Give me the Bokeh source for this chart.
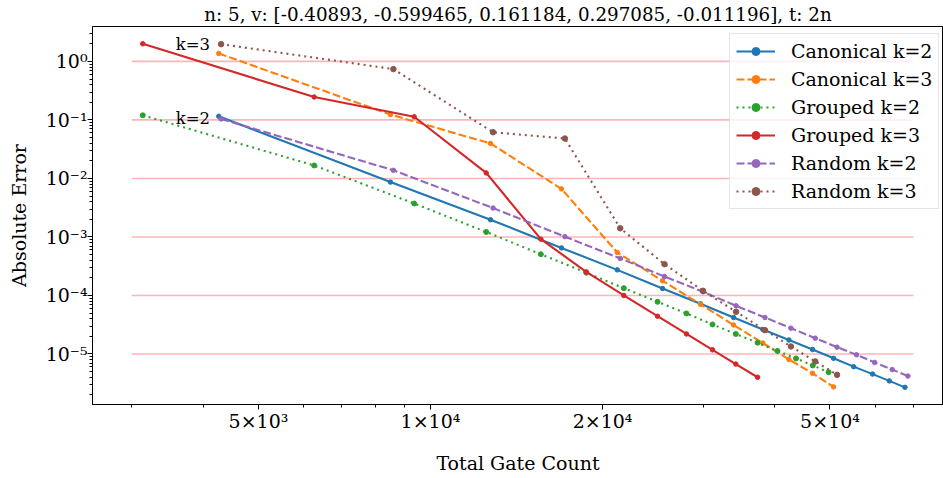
from bokeh.plotting import figure
from bokeh.models import Range1d, FixedTicker, Legend, LegendItem
from bokeh.embed import file_html
from bokeh.resources import INLINE

TITLE = "n: 5, v: [-0.40893, -0.599465, 0.161184, 0.297085, -0.011196], t: 2n"

canonical_x = [4261, 8510, 12735, 16950, 21220, 25470, 29680, 33910, 38150, 42380,
               46610, 50730, 55000, 59370, 63500, 67640]
grouped_x = [3137, 6258, 9364, 12516, 15600, 18730, 21790, 24960, 28050, 31150,
             34220, 37350, 40470, 43610, 46650, 49720]
random_x = [4301, 8612, 12865, 17185, 21475, 25670, 29975, 34250, 38485, 42725,
            47125, 51450, 55650, 59850, 64250, 68450]

canonical_k2 = [0.1155, 8.66e-3, 1.97e-3, 6.50e-4, 2.74e-4, 1.315e-4, 7.21e-5, 4.21e-5,
                2.62e-5, 1.734e-5, 1.194e-5, 8.43e-6, 6.08e-6, 4.53e-6, 3.47e-6, 2.69e-6]
canonical_k3 = [1.368, 0.1235, 0.0396, 6.63e-3, 5.45e-4, 1.78e-4, 7.07e-5, 3.13e-5,
                1.537e-5, 8.07e-6, 4.68e-6, 2.74e-6]
grouped_k2 = [0.120, 0.01668, 3.73e-3, 1.217e-3, 5.07e-4, 2.45e-4, 1.335e-4, 7.80e-5,
              4.93e-5, 3.20e-5, 2.20e-5, 1.56e-5, 1.127e-5, 8.40e-6, 6.38e-6, 4.87e-6]
grouped_k3 = [2.003, 0.2463, 0.1133, 0.01243, 9.18e-4, 2.53e-4, 1.0e-4, 4.42e-5,
              2.20e-5, 1.177e-5, 6.71e-6, 4.00e-6]
random_k2 = [0.1039, 0.01377, 3.12e-3, 1.012e-3, 4.30e-4, 2.11e-4, 1.155e-4, 6.67e-5,
             4.20e-5, 2.76e-5, 1.864e-5, 1.309e-5, 9.68e-6, 7.18e-6, 5.41e-6, 4.19e-6]
random_k3 = [1.972, 0.7394, 0.0616, 0.0481, 1.407e-3, 3.43e-4, 1.202e-4, 5.27e-5,
             2.55e-5, 1.345e-5, 7.46e-6, 4.40e-6]

series_names = ["Canonical k=2", "Canonical k=3", "Grouped k=2",
                "Grouped k=3", "Random k=2", "Random k=3"]
series_x = [canonical_x, canonical_x, grouped_x, grouped_x, random_x, random_x]
series_y = [canonical_k2, canonical_k3, grouped_k2, grouped_k3, random_k2, random_k3]
series_colors = ["#1f77b4", "#ff7f0e", "#2ca02c", "#d62728", "#9467bd", "#8c564b"]
series_dash = ["solid", "8 3", "2 4", "solid", "8 3", "2 4"]
series_marker_size = [4.5, 4.5, 5, 4.5, 4.5, 5.5]

hline_values = [1, 0.1, 0.01, 1e-3, 1e-4, 1e-5]
hline_x_start = 3000
hline_x_end = 70000

annot_texts = ["k=3", "k=2"]
annot_x = [random_x[0], random_x[0]]
annot_y = [random_k3[0], random_k2[0]]

x_major = [5000, 10000, 20000, 50000]
x_major_labels = ["5×10³", "1×10⁴", "2×10⁴", "5×10⁴"]
x_minor = [3000, 4000, 6000, 7000, 8000, 9000, 30000, 40000, 60000, 70000]
y_major = [1e0, 1e-1, 1e-2, 1e-3, 1e-4, 1e-5]
y_major_labels = ["10⁰", "10⁻¹", "10⁻²", "10⁻³", "10⁻⁴", "10⁻⁵"]
y_minor = [m * 10.0 ** e for e in range(-6, 1) for m in range(2, 10)]

FONT = "DejaVu Serif"

p = figure(width=943, height=476, x_axis_type="log", y_axis_type="log",
           x_range=Range1d(2562, 79000), y_range=Range1d(1.37e-6, 3.95),
           output_backend="svg", toolbar_location=None,
           min_border_left=92, min_border_right=0, min_border_top=25,
           min_border_bottom=72, title=TITLE)
p.title.align = "center"
p.title.text_font = FONT
p.title.text_font_size = "18.3px"
p.title.text_font_style = "normal"
p.title.text_color = "black"
p.title.standoff = 3
p.grid.visible = False
p.outline_line_color = "black"
p.outline_line_width = 1
p.background_fill_color = "white"
p.border_fill_color = "white"

# axes
p.xaxis.ticker = FixedTicker(ticks=x_major, minor_ticks=x_minor)
p.xaxis.major_label_overrides = dict(zip(x_major, x_major_labels))
p.yaxis.ticker = FixedTicker(ticks=y_major, minor_ticks=y_minor)
p.yaxis.major_label_overrides = dict(zip(y_major, y_major_labels))
for ax in (p.xaxis[0], p.yaxis[0]):
    ax.axis_line_color = "black"
    ax.major_tick_line_color = "black"
    ax.minor_tick_line_color = "black"
    ax.major_tick_in = 0
    ax.major_tick_out = 5
    ax.minor_tick_in = 0
    ax.minor_tick_out = 3
    ax.major_label_text_font = FONT
    ax.major_label_text_font_size = "19px"
    ax.major_label_text_color = "black"
    ax.axis_label_text_font = FONT
    ax.axis_label_text_font_size = "19px"
    ax.axis_label_text_font_style = "normal"
    ax.axis_label_text_color = "black"
p.xaxis.axis_label = "Total Gate Count"
p.yaxis.axis_label = "Absolute Error"
p.xaxis.major_label_standoff = 0
p.yaxis.major_label_standoff = 0
p.xaxis.axis_label_standoff = 17
p.yaxis.axis_label_standoff = 13

# pink reference lines
p.segment(x0=[hline_x_start] * len(hline_values), x1=[hline_x_end] * len(hline_values),
          y0=hline_values, y1=hline_values, line_color="#ffb3ba", line_width=1.6)

items = []
for name, xs, ys, c, d, ms in zip(series_names, series_x, series_y, series_colors,
                                  series_dash, series_marker_size):
    xs = xs[:len(ys)]
    r1 = p.line(xs, ys, line_color=c, line_width=2.1, line_dash=d)
    r2 = p.scatter(xs, ys, marker="circle", size=ms, fill_color=c, line_color=c)
    items.append(LegendItem(label=name, renderers=[r1, r2]))

p.text(x=annot_x, y=annot_y, text=annot_texts, text_align="right",
       text_baseline="alphabetic", x_offset=-11, text_font_size="16.5px",
       text_font={"value": FONT}, text_color="black")

legend = Legend(items=items, location=(637, 195))
legend.label_text_font = FONT
legend.label_text_font_size = "19px"
legend.label_text_color = "black"
legend.glyph_width = 39
legend.glyph_height = 20
legend.label_height = 20
legend.label_standoff = 16
legend.spacing = 6
legend.padding = 6
legend.margin = 0
legend.border_line_color = "#cccccc"
legend.border_line_width = 1
legend.background_fill_color = "white"
legend.background_fill_alpha = 0.8
p.add_layout(legend, "center")

open("out.html", "w").write(file_html(p, INLINE))
